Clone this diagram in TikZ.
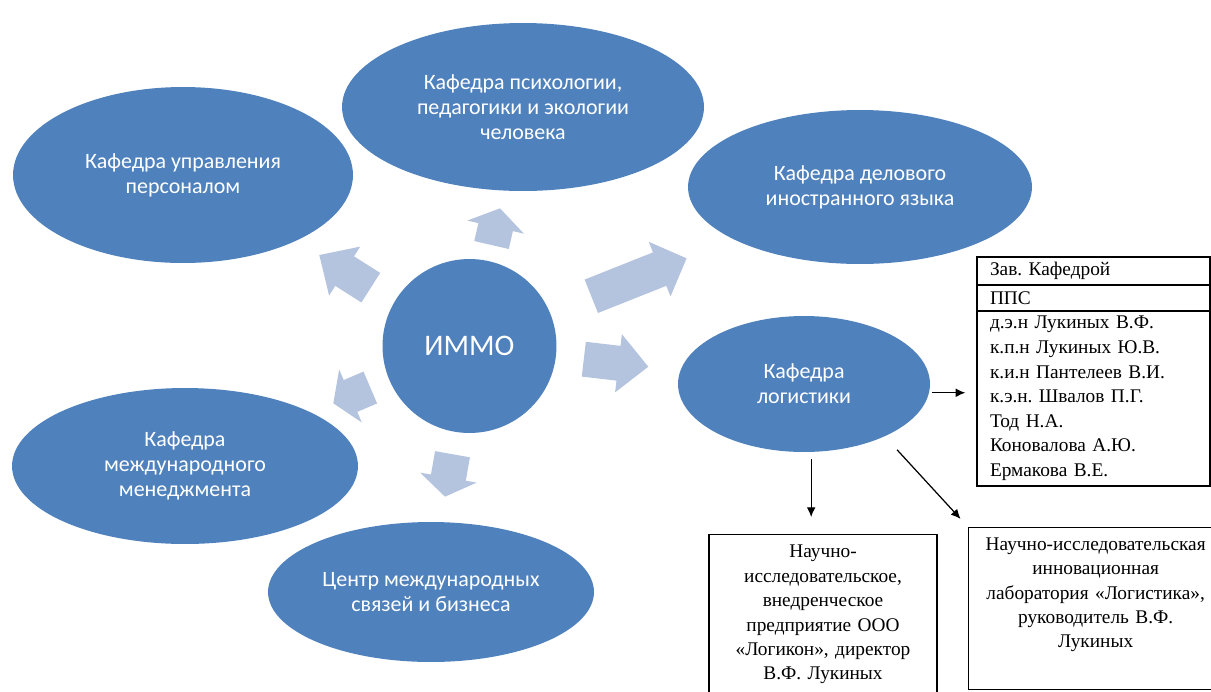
\documentclass[tikz,border=0pt]{standalone}
\usepackage{fontspec}
\setmainfont{Liberation Serif}
\newfontfamily\carl{Carlito}
\usetikzlibrary{shapes.geometric,arrows.meta}
\frenchspacing
\definecolor{blobblue}{RGB}{79,129,189}
\definecolor{lightarr}{RGB}{180,195,222}
\newcommand{\blockarr}[7]{%
  \pgfmathsetmacro\baang{atan2(-(#4-#2),#3-#1)}%
  \pgfmathsetmacro\balen{veclen(#3-#1,#4-#2)}%
  \pgfmathsetmacro\baneck{\balen-#7}%
  \fill[lightarr,shift={(#1,#2)},rotate=\baang]
    (0,-#5) -- (\baneck,-#5) -- (\baneck,-#6) -- (\balen,0) --
    (\baneck,#6) -- (\baneck,#5) -- (0,#5) -- cycle;}
\tikzset{
  blob/.style={ellipse, fill=blobblue, draw=none, inner sep=0pt, text=white,
    align=center, font=\carl\fontsize{12.5}{14.2}\selectfont},
  cell/.style={draw, line width=0.8pt, rectangle, inner xsep=0.26cm, inner ysep=0pt,
    text width=4.14cm, minimum width=4.66cm, align=left,
    font=\fontsize{11}{14}\selectfont},
  tbox/.style={draw, line width=0.8pt, rectangle, inner sep=0pt, align=center,
    font=\fontsize{11}{13.9}\selectfont},
  thin/.style={line width=0.7pt, -{Latex[length=5.5pt,width=5pt]}}
}
\begin{document}
\begin{tikzpicture}[x=0.02cm,y=-0.02cm]
\useasboundingbox (0,0) rectangle (1211,691);
\clip (0,0) rectangle (1211,691);
% block arrows from the centre
\blockarr{491.5}{245}{500}{208.3}{17.7}{29}{19.3}
\blockarr{370.8}{287.7}{319.3}{255}{17.5}{29}{30}
\blockarr{591.3}{296.3}{686.7}{258.3}{18}{29.4}{29}
\blockarr{583.8}{359.2}{648.3}{366.7}{17.5}{29.3}{30}
\blockarr{370.3}{387.5}{333.3}{403.3}{17.3}{28.8}{18.7}
\blockarr{452.5}{454.2}{445}{496.7}{17.7}{28.7}{19.4}
% ellipses
\node[blob, minimum width=7.24cm, minimum height=3.36cm] (psy) at (523,107)
  {Кафедра психологии,\\ педагогики и экологии\\ человека};
\node[blob, minimum width=6.8cm, minimum height=3.52cm] (upr) at (183,175)
  {Кафедра управления\\ персоналом};
\node[blob, minimum width=6.88cm, minimum height=3.08cm] (del) at (860,187)
  {Кафедра делового\\ иностранного языка};
\node[blob, minimum width=3.48cm, minimum height=3.48cm,
  font=\carl\fontsize{17}{20}\selectfont] (immo) at (469.5,346) {ИММО};
\node[blob, minimum width=5.04cm, minimum height=2.72cm] (log) at (804,384)
  {Кафедра\\ логистики};
\node[blob, minimum width=6.92cm, minimum height=3.12cm] (mm) at (185,466)
  {Кафедра\\ международного\\ менеджмента};
\node[blob, minimum width=6.52cm, minimum height=2.8cm] (cm) at (431,592)
  {Центр международных\\ связей и бизнеса};
% staff table
\node[cell, minimum height=0.56cm] (zav) at (1093.5,271) {Зав. Кафедрой};
\node[cell, minimum height=0.52cm] (pps) at (1093.5,298) {ППС};
\node[cell, minimum height=3.5cm] (staff) at (1093.5,398.5)
  {д.э.н Лукиных В.Ф.\\ к.п.н Лукиных Ю.В.\\ к.и.н Пантелеев В.И.\\
   к.э.н. Швалов П.Г.\\ Тод Н.А.\\ Коновалова А.Ю.\\ Ермакова В.Е.};
% lower boxes
\node[tbox, anchor=north, minimum width=4.56cm, minimum height=3.2cm, text width=4.4cm]
  (nauch) at (823,534)
  {Научно-\\ исследовательское,\\ внедренческое\\ предприятие ООО\\
   «Логикон», директор\\ В.Ф. Лукиных};
\node[tbox, anchor=north west, minimum width=5.08cm, minimum height=3.24cm, text width=4.9cm]
  (lab) at (968,527)
  {Научно-исследовательская\\ инновационная\\ лаборатория «Логистика»,\\
   руководитель В.Ф.\\ Лукиных\\ \strut};
% thin connectors
\draw[thin, shorten <=0.06cm, shorten >=0.22cm] (log.-4) -- (log.-4 -| staff.west);
\draw[thin, shorten <=0.14cm, shorten >=0.34cm] (log.-84) -- (log.-84 |- nauch.north);
\draw[thin, shorten <=0.36cm, shorten >=0.22cm] (log.-33) -- (lab.north west);
\end{tikzpicture}
\end{document}
